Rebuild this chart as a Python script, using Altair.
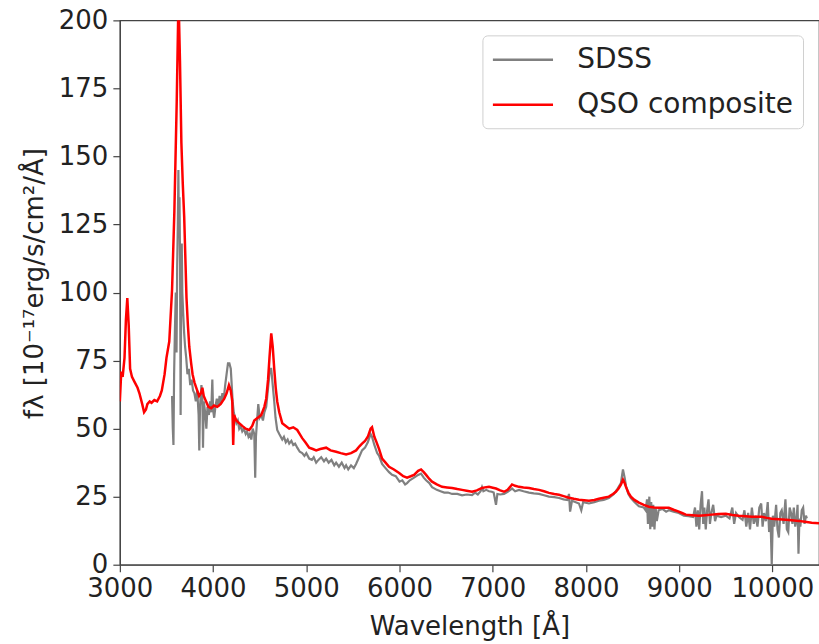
import altair as alt
import pandas as pd

# QSO composite (red)
wl_qso = [3000, 3015, 3030, 3050, 3065, 3080, 3095, 3110, 3130, 3160, 3190, 3210, 3240, 3260, 3280,
          3295, 3320, 3340, 3370, 3400, 3430, 3450, 3480, 3500, 3530, 3560, 3585, 3610, 3625, 3635,
          3645, 3660, 3675, 3690, 3705, 3715, 3730, 3745, 3765, 3780, 3800, 3820, 3850, 3870, 3885,
          3900, 3925, 3950, 3980, 4010, 4045, 4080, 4120, 4145, 4170, 4190, 4206, 4216, 4225, 4249,
          4280, 4313, 4350, 4388, 4420, 4442, 4480, 4517, 4550, 4570, 4590, 4605, 4624, 4640, 4656,
          4672, 4688, 4710, 4742, 4780, 4817, 4860, 4903, 4930, 4956, 4990, 5031, 5070, 5106, 5150,
          5213, 5260, 5320, 5370, 5427, 5480, 5534, 5570, 5598, 5630, 5660, 5690, 5705, 5730, 5748,
          5781, 5813, 5850, 5888, 5940, 5996, 6040, 6081, 6120, 6156, 6200, 6231, 6260, 6285, 6320,
          6349, 6400, 6456, 6510, 6564, 6620, 6671, 6720, 6778, 6830, 6885, 6930, 6960, 7000, 7035,
          7080, 7121, 7160, 7207, 7240, 7282, 7330, 7389, 7440, 7496, 7550, 7603, 7660, 7711, 7760,
          7818, 7870, 7925, 7980, 8032, 8090, 8139, 8190, 8246, 8290, 8321, 8350, 8375, 8397, 8415,
          8429, 8455, 8482, 8520, 8568, 8620, 8675, 8730, 8782, 8830, 8889, 8940, 8996, 9030, 9071,
          9140, 9211, 9280, 9350, 9420, 9500, 9570, 9639, 9710, 9779, 9830, 9886, 9940, 9993, 10070,
          10143, 10210, 10282, 10350, 10421, 10500]
fx_qso = [60, 71, 69, 76, 90, 98, 88, 72, 69, 67, 65, 63, 59, 56, 57,
          59, 60, 59.5, 60.5, 60, 62, 64, 70, 76, 82, 101, 130, 170, 200, 200,
          185, 155, 140, 128, 110, 98, 88, 80, 74, 70, 67, 65, 62, 63, 65,
          62, 60, 58, 57.5, 58.5, 58, 59, 61, 63, 66, 64, 60, 44, 55, 53,
          52, 51, 50, 49.5, 51, 53, 54, 55, 58, 61, 68, 76, 85, 80, 72,
          65, 60, 56, 52, 51, 50, 50.5, 49.5, 48, 46.5, 45, 43, 42.5, 42, 42.5,
          43, 42, 41.5, 41, 40.5, 41, 42, 43.5, 44.5, 45.5, 47, 50, 50.5, 47, 45.5,
          42.5, 39, 37.5, 36, 35, 33.7, 32.5, 32, 32.5, 33, 34.5, 35, 34, 33, 31.5,
          30.5, 29.5, 28.6, 28.4, 28.2, 27.8, 27.5, 27.2, 26.8, 27.3, 28.2, 28.5, 28.6, 28.3, 28,
          27.3, 26.8, 27.5, 29.5, 29, 28.6, 28.4, 28.2, 27.8, 27.5, 27, 26.4, 26, 25.7, 25.2,
          24.6, 24.2, 23.9, 23.7, 23.5, 23.8, 24.2, 24.6, 25, 26, 26.8, 28, 29.4, 31.2, 30,
          28.6, 26.5, 25, 23.8, 22.8, 22, 21.3, 21, 20.9, 20.9, 20.9, 20.2, 19.5, 19, 18.4,
          18.2, 18, 18.2, 18.4, 18.6, 18.7, 18.3, 18, 17.8, 17.6, 17.6, 17.6, 17.2, 16.9, 16.7,
          16.5, 16.3, 16.1, 15.8, 15.4, 15.2]

# SDSS spectrum (grey)
wl_sdss = [3560, 3568, 3575, 3582, 3590, 3600, 3608, 3615, 3622, 3628, 3634, 3640, 3646, 3652, 3658,
           3664, 3670, 3680, 3690, 3700, 3712, 3725, 3740, 3755, 3770, 3785, 3800, 3815, 3830, 3845,
           3852, 3860, 3875, 3885, 3892, 3900, 3915, 3928, 3940, 3955, 3968, 3980, 3992, 4000, 4012,
           4025, 4040, 4055, 4070, 4085, 4100, 4115, 4130, 4145, 4160, 4175, 4190, 4200, 4210, 4222,
           4235, 4250, 4265, 4280, 4295, 4313, 4330, 4350, 4365, 4380, 4395, 4410, 4425, 4442, 4452,
           4460, 4470, 4485, 4500, 4517, 4535, 4550, 4570, 4590, 4610, 4624, 4640, 4656, 4670, 4688,
           4710, 4742, 4760, 4780, 4800, 4817, 4840, 4860, 4880, 4903, 4930, 4956, 4980, 5000, 5031,
           5060, 5080, 5106, 5130, 5160, 5190, 5213, 5240, 5270, 5300, 5320, 5350, 5380, 5410, 5427,
           5450, 5480, 5510, 5534, 5560, 5598, 5630, 5660, 5690, 5705, 5730, 5760, 5781, 5813, 5850,
           5888, 5920, 5960, 6000, 6030, 6060, 6081, 6110, 6156, 6200, 6231, 6260, 6285, 6320, 6349,
           6400, 6440, 6480, 6520, 6564, 6620, 6671, 6720, 6778, 6810, 6840, 6870, 6885, 6900, 6930,
           6960, 6990, 7010, 7035, 7050, 7080, 7121, 7160, 7207, 7240, 7282, 7330, 7389, 7440, 7496,
           7550, 7603, 7660, 7711, 7760, 7800, 7818, 7830, 7850, 7925, 7950, 7970, 8032, 8090, 8139,
           8190, 8246, 8300, 8340, 8375, 8397, 8415, 8429, 8455, 8482, 8520, 8568, 8620, 8640, 8655,
           8665, 8680, 8690, 8700, 8712, 8722, 8735, 8748, 8760, 8780, 8820, 8860, 8889, 8940, 8996,
           9050, 9100, 9150, 9170, 9185, 9200, 9215, 9230, 9245, 9258, 9270, 9285, 9300, 9315, 9330,
           9345, 9365, 9385, 9400, 9450, 9500, 9540, 9570, 9590, 9610, 9640, 9680, 9700, 9720, 9740,
           9760, 9780, 9800, 9820, 9840, 9860, 9880, 9895, 9910, 9930, 9950, 9965, 9980, 9993, 10005,
           10020, 10040, 10055, 10070, 10085, 10100, 10120, 10140, 10155, 10170, 10185, 10200, 10215, 10230, 10245,
           10260, 10270, 10280, 10290, 10300, 10315, 10330, 10345, 10360, 10370]
fx_sdss = [62, 50, 44, 70, 85, 100, 78, 110, 125, 145, 120, 135, 110, 55, 100,
           118, 100, 92, 85, 80, 76, 70, 72, 66, 68, 64, 63, 60, 64, 55,
           42, 58, 66, 62, 43, 60, 56, 50, 58, 55, 60, 56, 68, 57, 54,
           58, 61, 58, 62, 59, 63, 61, 66, 70, 74, 74, 72, 66, 60, 56,
           54, 52, 53, 50, 51, 49, 50, 48, 49, 47, 48, 46, 50, 48, 32,
           47, 52, 59, 54, 55, 53, 56, 58, 65, 72, 72, 66, 60, 54, 49.5,
           48, 46, 47, 45, 46, 44.5, 45.5, 44, 44.5, 43, 41.5, 41, 40, 41, 39,
           38.5, 39.5, 37.5, 38.5, 39.5, 38, 39, 37.5, 38.5, 36.5, 37.5, 36, 37.5, 35.5, 36.5,
           35, 36.5, 35.5, 37, 39, 42, 43, 45, 48, 47, 44, 41, 40, 37, 35.5,
           34, 33, 32.5, 30.5, 31, 29.5, 30, 31, 32, 33, 33.5, 32, 31, 30, 28.5,
           27.5, 27, 26.5, 26.5, 26, 26, 25.5, 25.8, 25.6, 26.5, 25.8, 27, 28.5, 27, 27.5,
           27, 26.8, 26.5, 22, 26, 25.8, 26, 26.8, 28, 27, 27.5, 27, 26.5, 26.2, 26,
           25.5, 25, 24.8, 24.5, 24, 23.8, 26, 19.5, 23.5, 22.5, 20, 23, 22.5, 23, 23.5,
           23.8, 24.5, 26, 28, 30, 35, 32, 29, 26, 24.5, 23, 21.5, 21, 20, 24,
           15, 25, 13, 23, 14, 22, 13, 21, 16, 20, 20.5, 19.5, 20, 19.5, 19,
           18, 17.8, 17.5, 21, 14, 20, 13, 22, 27, 15, 21, 13, 20, 24, 15,
           19, 22, 16, 18, 17.5, 18, 17, 21, 15, 19, 17.5, 16.5, 20, 14, 19,
           13, 21, 15, 18, 14, 21, 22.5, 14, 19, 16, 23, 12, 17, 0, 18,
           14, 22, 13, 10, 19, 20, 15, 24, 13, 12, 21, 19, 15, 21, 14,
           17, 22, 4, 17, 14, 20, 21, 15, 18, 17]

series_order = ["SDSS", "QSO composite"]

df_sdss = pd.DataFrame({"wl": wl_sdss, "flux": fx_sdss, "series": "SDSS"})
df_qso = pd.DataFrame({"wl": wl_qso, "flux": fx_qso, "series": "QSO composite"})

FONT = "DejaVu Sans"
AX = "#444444"

color = alt.Color(
    "series:N",
    scale=alt.Scale(domain=series_order, range=["#808080", "#ff0000"]),
    legend=alt.Legend(
        title=None,
        orient="none",
        legendX=363,
        legendY=15,
        symbolType="M-1,0L3.3,0",
        symbolSize=784,
        symbolStrokeWidth=2.5,
        labelFontSize=28,
        labelFont=FONT,
        labelColor="#222222",
        labelOffset=55,
        labelLimit=400,
        rowPadding=15,
        padding=9,
        strokeColor="#d0d0d0",
        fillColor="white",
        cornerRadius=5,
    ),
)

x = alt.X(
    "wl:Q",
    scale=alt.Scale(domain=[3000, 10500], nice=False, zero=False),
    axis=alt.Axis(
        title="Wavelength [Å]",
        values=[3000, 4000, 5000, 6000, 7000, 8000, 9000, 10000],
        format="d",
        labelFlush=False,
        labelOverlap=False,
        titlePadding=12,
    ),
)
y = alt.Y(
    "flux:Q",
    scale=alt.Scale(domain=[0, 200], nice=False),
    axis=alt.Axis(
        title="fλ [10⁻¹⁷erg/s/cm²/Å]",
        values=[0, 25, 50, 75, 100, 125, 150, 175, 200],
        labelFlush=False,
        labelOverlap=False,
        titleX=-85,
        titleY=263,
        titleAngle=270,
        titleAlign="center",
        titleBaseline="middle",
    ),
)

gray = alt.Chart(df_sdss).mark_line(strokeWidth=2.2, clip=True).encode(x=x, y=y, color=color)
red = alt.Chart(df_qso).mark_line(strokeWidth=2.5, clip=True).encode(x=x, y=y, color=color)

chart = (
    alt.layer(gray, red)
    .properties(
        width=700,
        height=545,
        autosize=alt.AutoSizeParams(type="none"),
        padding={"left": 120, "top": 20, "right": 0, "bottom": 79},
    )
    .configure_view(stroke=AX, strokeWidth=1.2)
    .configure_axis(
        grid=False,
        domainColor=AX,
        domainWidth=1.2,
        tickColor=AX,
        tickSize=7,
        tickWidth=1.2,
        labelFont=FONT,
        labelFontSize=26,
        labelColor="#222222",
        labelPadding=4,
        titleFont=FONT,
        titleFontSize=26,
        titleFontWeight="normal",
        titleColor="#222222",
    )
    .configure_axisY(labelPadding=5)
)

chart.save("out.html", embed_options={"renderer": "svg", "actions": False})
